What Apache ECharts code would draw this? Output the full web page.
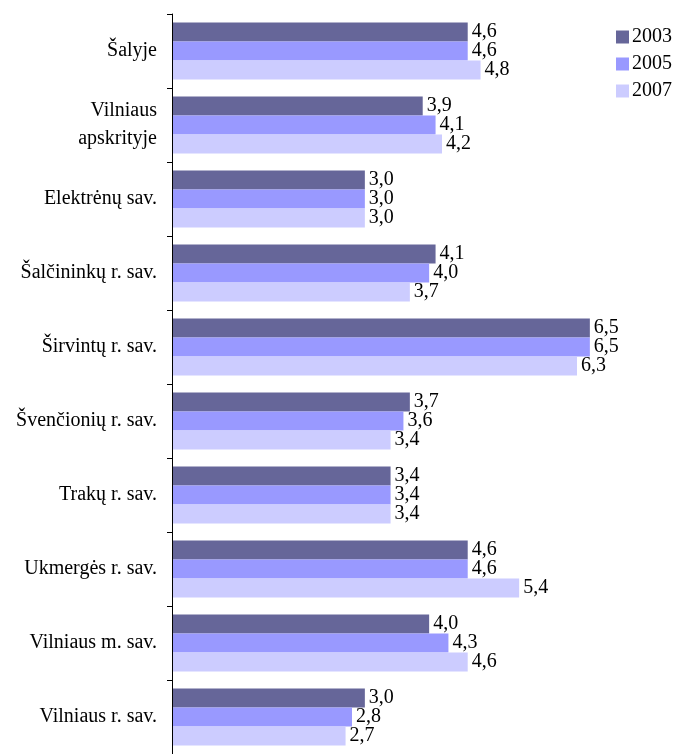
<!DOCTYPE html>
<html>
<head>
<meta charset="utf-8">
<script src="https://cdn.jsdelivr.net/npm/echarts@6/dist/echarts.min.js"></script>
<style>
html,body{margin:0;padding:0;background:#fff;}
#chart{width:677px;height:754px;}
</style>
</head>
<body>
<div id="chart"></div>
<script>
var categories=['Šalyje','Vilniaus\napskrityje','Elektrėnų sav.','Šalčininkų r. sav.','Širvintų r. sav.',
                'Švenčionių r. sav.','Trakų r. sav.','Ukmergės r. sav.','Vilniaus m. sav.','Vilniaus r. sav.'];
var years=['2003','2005','2007'];
var data2003=[4.6,3.9,3.0,4.1,6.5,3.7,3.4,4.6,4.0,3.0];
var data2005=[4.6,4.1,3.0,4.0,6.5,3.6,3.4,4.6,4.3,2.8];
var data2007=[4.8,4.2,3.0,3.7,6.3,3.4,3.4,5.4,4.6,2.7];
var colors=['#666699','#9999ff','#ccccff'];

var font='"Liberation Serif","Times New Roman",serif';

function makeSeries(name,data,color){
	return {
		name:name,
		type:'bar',
		data:data,
		barGap:0,
		barCategoryGap:'23%',
		itemStyle:{color:color},
		label:{
			show:true,
			position:'right',
			distance:4,
			color:'#000',
			fontFamily:font,
			fontSize:20,
			formatter:function(p){ return p.value.toFixed(1).replace('.',','); }
		}
	};
}

var option={
	animation:false,
	textStyle:{fontFamily:font},
	legend:{
		data:years,
		orient:'vertical',
		left:611,
		top:22,
		itemWidth:13,
		itemHeight:13,
		itemGap:7,
		icon:'rect',
		textStyle:{fontFamily:font,fontSize:20,lineHeight:20,color:'#000',padding:[0,0,0,-2]}
	},
	grid:{left:172,top:14,width:450,height:745},
	xAxis:{
		type:'value',
		min:0,
		max:7,
		show:false
	},
	yAxis:{
		type:'category',
		inverse:true,
		data:categories,
		z:5,
		axisLine:{show:true,lineStyle:{color:'#000',width:1}},
		axisTick:{show:true,alignWithLabel:false,interval:0,inside:false,length:5,lineStyle:{color:'#000',width:1}},
		axisLabel:{
			margin:15,
			color:'#000',
			fontFamily:font,
			fontSize:20,
			lineHeight:28,
			align:'right'
		}
	},
	series:[
		makeSeries(years[0],data2003,colors[0]),
		makeSeries(years[1],data2005,colors[1]),
		makeSeries(years[2],data2007,colors[2])
	]
};

var mychart=echarts.init(document.getElementById('chart'));
mychart.setOption(option);
</script>
</body>
</html>
